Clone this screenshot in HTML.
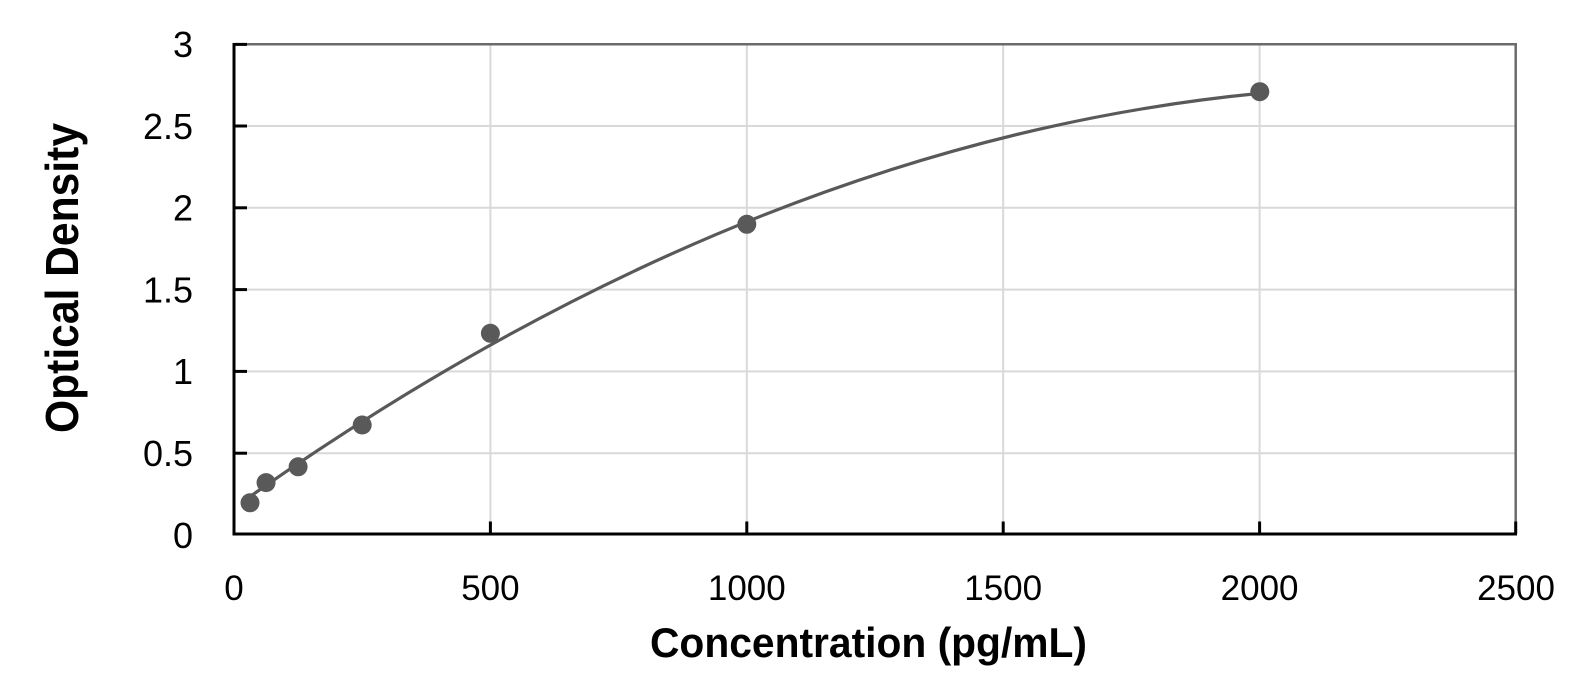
<!DOCTYPE html>
<html>
<head>
<meta charset="utf-8">
<style>
  html, body { margin: 0; padding: 0; background: #ffffff; }
  svg { display: block; }
  text { font-family: "Liberation Sans", Arial, sans-serif; fill: #000; }
</style>
</head>
<body>
<svg width="1595" height="692" viewBox="0 0 1595 692" xmlns="http://www.w3.org/2000/svg">
  <rect x="0" y="0" width="1595" height="692" fill="#ffffff"/>

  <!-- gridlines -->
  <g stroke="#d9d9d9" stroke-width="2" fill="none">
    <line x1="234" y1="453.2" x2="1516" y2="453.2"/>
    <line x1="234" y1="371.4" x2="1516" y2="371.4"/>
    <line x1="234" y1="289.6" x2="1516" y2="289.6"/>
    <line x1="234" y1="207.8" x2="1516" y2="207.8"/>
    <line x1="234" y1="126.0" x2="1516" y2="126.0"/>
    <line x1="490.4" y1="44" x2="490.4" y2="534"/>
    <line x1="746.8" y1="44" x2="746.8" y2="534"/>
    <line x1="1003.2" y1="44" x2="1003.2" y2="534"/>
    <line x1="1259.6" y1="44" x2="1259.6" y2="534"/>
  </g>

  <!-- top / right border -->
  <g stroke="#6b6b6b" stroke-width="2.5" fill="none">
    <line x1="234" y1="44.3" x2="1516.9" y2="44.3"/>
    <line x1="1515.7" y1="43" x2="1515.7" y2="535"/>
  </g>

  <!-- axes -->
  <g stroke="#000" stroke-width="3" fill="none">
    <line x1="234" y1="43" x2="234" y2="535.5"/>
    <line x1="232.5" y1="534" x2="1517" y2="534"/>
    <!-- y ticks -->
    <line x1="234" y1="44.4" x2="247" y2="44.4"/>
    <line x1="234" y1="126.0" x2="247" y2="126.0"/>
    <line x1="234" y1="207.8" x2="247" y2="207.8"/>
    <line x1="234" y1="289.6" x2="247" y2="289.6"/>
    <line x1="234" y1="371.4" x2="247" y2="371.4"/>
    <line x1="234" y1="453.2" x2="247" y2="453.2"/>
    <!-- x ticks -->
    <line x1="490.4" y1="521.5" x2="490.4" y2="534"/>
    <line x1="746.8" y1="521.5" x2="746.8" y2="534"/>
    <line x1="1003.2" y1="521.5" x2="1003.2" y2="534"/>
    <line x1="1259.6" y1="521.5" x2="1259.6" y2="534"/>
    <line x1="1515.7" y1="521.5" x2="1515.7" y2="534"/>
  </g>

  <!-- y tick labels -->
  <g font-size="36" text-anchor="end">
    <text x="193" y="547.8">0</text>
    <text x="193" y="466.0">0.5</text>
    <text x="193" y="384.2">1</text>
    <text x="193" y="302.4">1.5</text>
    <text x="193" y="220.6">2</text>
    <text x="193" y="138.8">2.5</text>
    <text x="193" y="57.0">3</text>
  </g>

  <!-- x tick labels -->
  <g font-size="35" text-anchor="middle">
    <text x="234" y="600">0</text>
    <text x="490.4" y="600">500</text>
    <text x="746.8" y="600">1000</text>
    <text x="1003.2" y="600">1500</text>
    <text x="1259.6" y="600">2000</text>
    <text x="1516" y="600">2500</text>
  </g>

  <!-- axis titles -->
  <text x="868.5" y="657" font-size="42" font-weight="bold" text-anchor="middle" textLength="437" lengthAdjust="spacingAndGlyphs">Concentration (pg/mL)</text>
  <text transform="translate(78,278) rotate(-90)" x="0" y="0" font-size="46" font-weight="bold" text-anchor="middle" textLength="310" lengthAdjust="spacingAndGlyphs">Optical Density</text>

  <!-- fitted curve -->
  <path d="M250.0,496.55 Q754.8,142.1 1259.6,93.4" stroke="#595959" stroke-width="3.2" fill="none" stroke-linecap="round"/>

  <!-- data points -->
  <g fill="#595959">
    <circle cx="250.0" cy="502.8" r="9.5"/>
    <circle cx="266.05" cy="482.6" r="9.5"/>
    <circle cx="298.1" cy="466.8" r="9.5"/>
    <circle cx="362.2" cy="425.0" r="9.5"/>
    <circle cx="490.4" cy="333.3" r="9.5"/>
    <circle cx="746.8" cy="224.3" r="9.5"/>
    <circle cx="1259.8" cy="91.7" r="9.5"/>
  </g>
</svg>
</body>
</html>
